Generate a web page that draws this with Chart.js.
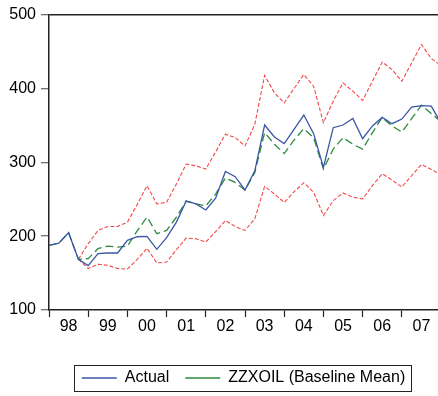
<!DOCTYPE html>
<html><head><meta charset="utf-8">
<script src="https://cdn.jsdelivr.net/npm/chart.js@4.4.0/dist/chart.umd.min.js"></script>
<style>html,body{margin:0;padding:0;background:#fff;overflow:hidden}#wrap{width:438px;height:396px}</style>
</head><body><div id="wrap"><canvas id="c" width="438" height="396"></canvas></div>
<script>
const quarters = [];
for (let y = 1998; y <= 2008; y++) for (let q = 1; q <= 4; q++) if (quarters.length < 41) quarters.push(y + 'Q' + q);
const yearLabels = ['98','99','00','01','02','03','04','05','06','07'];
const yTicks = [100,200,300,400,500];
const actual = [187.5,190.6,204.6,168.7,160.2,176.4,177.2,177.2,194.3,199.2,
  199.7,182.2,197.9,219,247.5,243.7,235.5,251.5,287.6,280.5,
  262.5,288.5,350.5,334.3,325.3,344.6,364,338.8,293,346.9,
  350.5,359.5,332,349.2,360.8,352.3,358.5,374.7,376.7,376,353];
const baseline = [187.5,190.6,204.6,168.7,169.6,183,186.6,185.2,186.6,207,
  226,203.3,207.7,225.7,247.5,243.7,241,257,278.7,272.8,
  262.5,286.3,340.2,324.5,311.9,330,345.5,333.4,290.8,317.8,
  333.4,324.5,317.8,340.2,360.8,349.2,341,359,377.4,366,355];
const upperBand = [null,null,null,168.7,189.8,207.7,213.1,213.1,218.9,243,
  268.4,243.7,245.9,270.6,297.6,295.3,290.8,314,338,333.4,
  322.2,351.4,417.8,394,380.5,399.9,418.8,403,353.6,382.8,
  407.5,396.3,383.8,409.8,435.8,425.5,409.8,434.5,459.5,440.7,431];
const lowerBand = [null,null,null,168.7,156.1,161.9,160.6,156.1,155.4,168.5,
  183.7,163.7,165,181.7,197.4,196.5,192,206,221.2,213.1,
  207.7,223.5,267.4,257.2,245.5,260,272.4,259.3,228,248.1,
  258.5,252.7,250.4,268.4,284.5,276,266.5,281.8,297.1,290.3,283];

const toXY = arr => arr.map((v, i) => ({x: i, y: v}));
const FONT = 'Liberation Sans, Arial, Helvetica, sans-serif';

const legendBorder = {
  id: 'legendBorder',
  afterDraw(chart) {
    const lg = chart.legend;
    if (!lg || !lg.legendHitBoxes || !lg.legendHitBoxes.length) return;
    const hb = lg.legendHitBoxes;
    const l = Math.min(...hb.map(h => h.left));
    const r = Math.max(...hb.map(h => h.left + h.width));
    const t = hb[0].top;
    const ctx = chart.ctx;
    ctx.save();
    ctx.strokeStyle = '#222';
    ctx.lineWidth = 1;
    ctx.strokeRect(Math.round(l - 8) + 0.5, Math.round(t - 5) + 0.5, Math.round(r - l + 14), 26);
    ctx.restore();
  }
};

new Chart(document.getElementById('c'), {
  type: 'line',
  data: {
    datasets: [
      {label: 'Actual', data: toXY(actual), borderColor: '#3a56a6', borderWidth: 1.3, pointRadius: 0, tension: 0, fill: false},
      {label: 'ZZXOIL (Baseline Mean)', data: toXY(baseline), borderColor: '#2e8b3e', borderWidth: 1.3, borderDash: [8, 4], pointRadius: 0, tension: 0, fill: false},
      {label: 'Upper', data: toXY(upperBand), borderColor: '#f24a4a', borderWidth: 1.1, borderDash: [4, 2], pointRadius: 0, tension: 0, fill: false},
      {label: 'Lower', data: toXY(lowerBand), borderColor: '#f24a4a', borderWidth: 1.1, borderDash: [4, 2], pointRadius: 0, tension: 0, fill: false}
    ]
  },
  options: {
    responsive: false,
    animation: false,
    devicePixelRatio: 1,
    layout: {padding: {top: 13, right: 0, left: 0, bottom: 0}},
    plugins: {
      tooltip: {enabled: false},
      legend: {
        position: 'bottom',
        fullSize: false,
        labels: {
          font: {family: FONT, size: 16},
          color: '#000',
          usePointStyle: true,
          pointStyle: 'line',
          pointStyleWidth: 35,
          padding: 16,
          filter: item => item.datasetIndex < 2
        }
      }
    },
    scales: {
      x: {
        type: 'linear',
        min: 0,
        max: 39.69,
        afterBuildTicks: s => { s.ticks = yearLabels.map((_, i) => ({value: i * 4})); },
        afterFit: s => { s.height = 44; },
        ticks: {
          autoSkip: false, maxRotation: 0, color: '#000',
          font: {family: FONT, size: 16},
          labelOffset: 19.6,
          padding: 0,
          callback: v => yearLabels[v / 4]
        },
        grid: {drawOnChartArea: false, drawTicks: true, tickLength: 7, tickColor: '#222', tickWidth: 1.2},
        border: {display: true, color: '#222', width: 1.5}
      },
      y: {
        min: 100, max: 500,
        afterBuildTicks: s => { s.ticks = yTicks.map(v => ({value: v})); },
        afterFit: s => { s.width = 49; },
        ticks: {color: '#000', font: {family: FONT, size: 16}, padding: 5},
        grid: {
          drawOnChartArea: true, drawTicks: true, tickLength: 8,
          color: c => (c.tick && c.tick.value === 500) ? '#222' : 'rgba(0,0,0,0)',
          lineWidth: 1.5,
          tickColor: '#444', tickWidth: 1
        },
        border: {display: true, color: '#222', width: 1.5}
      }
    }
  },
  plugins: [legendBorder]
});
</script></body></html>
